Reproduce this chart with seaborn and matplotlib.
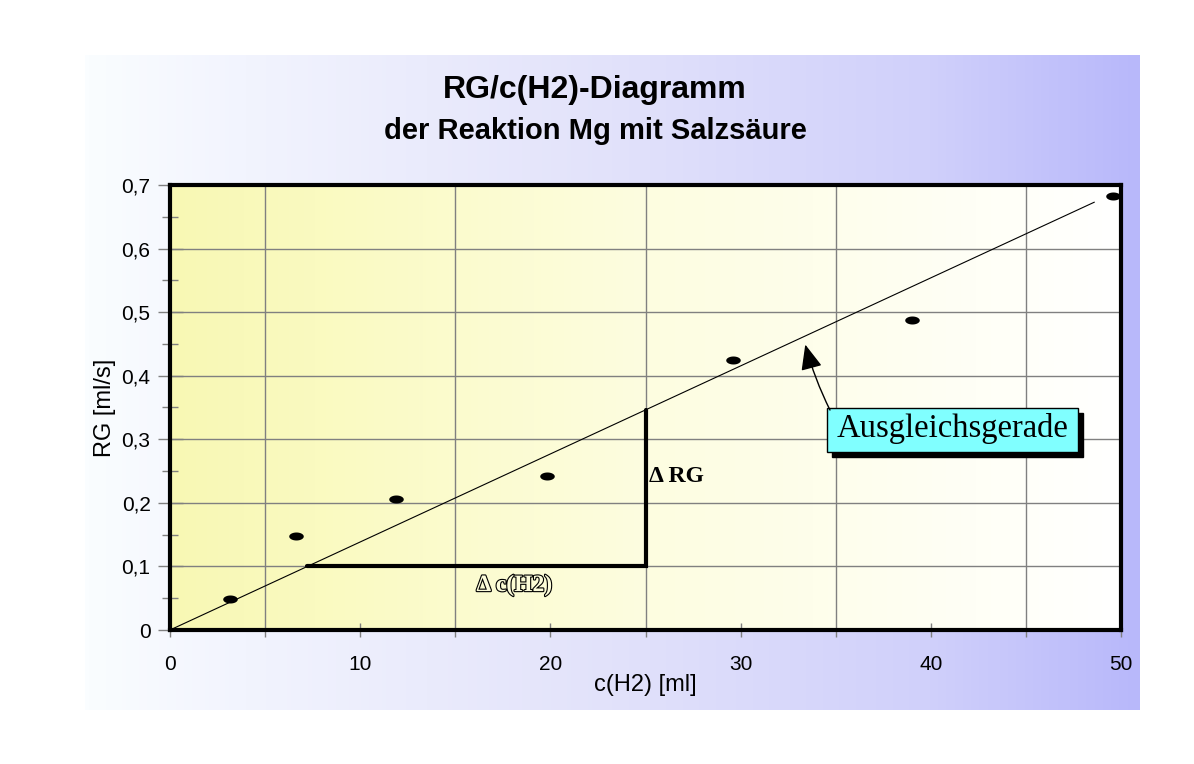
import numpy as np
import pandas as pd
import matplotlib
matplotlib.use("Agg")
import matplotlib.pyplot as plt
import matplotlib.patheffects as pe
from matplotlib.colors import LinearSegmentedColormap
from matplotlib.patches import Rectangle
from matplotlib.ticker import MultipleLocator, FuncFormatter
import seaborn as sns

# data
c_h2 = [3.15, 6.6, 11.9, 19.8, 29.6, 39.0, 49.6]
rg = [0.049, 0.148, 0.206, 0.242, 0.424, 0.487, 0.682]

# fit line (Ausgleichsgerade)
fit_x = [0.0, 48.6]
fit_y = [0.0, 0.673]

# slope triangle
tri_x = [7.2, 25.0, 25.0]
tri_y = [0.1, 0.1, 0.346]

title = "RG/c(H2)-Diagramm"
subtitle = "der Reaktion Mg mit Salzsäure"
xlabel = "c(H2) [ml]"
ylabel = "RG [ml/s]"

sns.set_theme(style="white")
plt.rcParams['font.family'] = ['Liberation Sans', 'DejaVu Sans']
plt.rcParams['text.color'] = 'black'
plt.rcParams['axes.labelcolor'] = 'black'
plt.rcParams['xtick.labelcolor'] = 'black'
plt.rcParams['ytick.labelcolor'] = 'black'

serif = ["Liberation Serif", "DejaVu Serif"]

fig = plt.figure(figsize=(11.94, 7.64), dpi=100)

# outer panel with blue gradient
bg = fig.add_axes([85/1194, 1-710/764, 1055/1194, 655/764], zorder=-5)
bg_cmap = LinearSegmentedColormap.from_list(
    "panel", [(0, "#fafdff"), (0.15, "#f2f4fe"), (0.5, "#e2e2fa"), (0.8, "#d0d0fa"), (1, "#b8b8fa")])
bg.imshow(np.linspace(0, 1, 256)[None, :], aspect="auto", cmap=bg_cmap, extent=[0, 1, 0, 1])
bg.axis("off")

ax = fig.add_axes([170/1194, 1-630/764, 951/1194, 445/764])

# plot area yellow -> white gradient
pa_cmap = LinearSegmentedColormap.from_list(
    "plot", [(0, "#f8f8b4"), (0.15, "#fafac0"), (0.5, "#fdfde0"), (0.85, "#fffff6"), (1, "#ffffff")])
ax.imshow(np.linspace(0, 1, 256)[None, :], aspect="auto", cmap=pa_cmap,
          extent=[0, 50, 0, 0.7], zorder=0)

# ellipse marker
t = np.linspace(0, 2*np.pi, 40)
ell = np.column_stack([np.cos(t), 0.55*np.sin(t)])

df = pd.DataFrame({"c": c_h2, "rg": rg})
sns.scatterplot(data=df, x="c", y="rg", ax=ax, marker=ell, s=110, color="black",
                edgecolor="black", linewidth=0, zorder=5, clip_on=False)
sns.lineplot(x=fit_x, y=fit_y, ax=ax, color="black", linewidth=0.8, zorder=4)
ax.plot(tri_x, tri_y, color="black", linewidth=3, zorder=4, solid_joinstyle="miter")

ax.set_xlim(0, 50)
ax.set_ylim(0, 0.7)

ax.xaxis.set_major_locator(MultipleLocator(10))
ax.xaxis.set_minor_locator(MultipleLocator(5))
ax.yaxis.set_major_locator(MultipleLocator(0.1))
ax.yaxis.set_minor_locator(MultipleLocator(0.05))
ax.yaxis.set_major_formatter(FuncFormatter(lambda v, p: "0" if abs(v) < 1e-9 else f"{v:.1f}".replace(".", ",")))

# gridlines: vertical at 5,15,25..., horizontal at every 0.1
for xv in [5, 15, 25, 35, 45]:
    ax.axvline(xv, color="#808080", linewidth=1, zorder=1)
for yv in np.arange(0.1, 0.65, 0.1):
    ax.axhline(yv, color="#808080", linewidth=1, zorder=1)

ax.tick_params(axis="x", which="major", direction="inout", length=10, width=1, color="#808080",
               labelsize=15, pad=13, bottom=True)
ax.tick_params(axis="x", which="minor", direction="out", length=5, width=1, color="#808080", bottom=True)
ax.tick_params(axis="y", which="major", direction="inout", length=18, width=1, color="#808080",
               labelsize=15, pad=5, left=True)
ax.tick_params(axis="y", which="minor", direction="inout", length=12, width=1, color="#808080", left=True)

for sp in ax.spines.values():
    sp.set_visible(True)
    sp.set_color("black")
    sp.set_linewidth(3)
    sp.set_zorder(6)

ax.set_xlabel(xlabel, fontsize=17, labelpad=0)
ax.set_ylabel(ylabel, fontsize=17, labelpad=4)

# titles
fig.text(595/1194, 1-90/764, title, ha="center", va="center", fontsize=23, fontweight="bold")
fig.text(595/1194, 1-131/764, subtitle, ha="center", va="center", fontsize=21, fontweight="bold")

# triangle labels
ax.text(25.2, 0.241, "\u0394 RG", fontsize=17, fontweight="bold", family=serif,
        ha="left", va="center", zorder=7)
ax.text(18.1, 0.07, "\u0394 c(H2)", fontsize=17, fontweight="bold", family=serif,
        ha="center", va="center", color="#fcfcda", zorder=7,
        path_effects=[pe.Stroke(linewidth=1.6, foreground="black"), pe.Normal()])

# Ausgleichsgerade callout with drop shadow
bx0, bx1, by0, by1 = 34.54, 47.74, 0.280, 0.349
ax.add_patch(Rectangle((bx0 + 0.27, by0 - 0.008), bx1 - bx0, by1 - by0,
                       facecolor="black", edgecolor="black", zorder=7))
ax.add_patch(Rectangle((bx0, by0), bx1 - bx0, by1 - by0,
                       facecolor="#80ffff", edgecolor="black", linewidth=1, zorder=8))
ax.text((bx0 + bx1) / 2, (by0 + by1) / 2 + 0.002, "Ausgleichsgerade", fontsize=23.5, family=serif,
        ha="center", va="center", color="black", zorder=9)
ax.annotate("", xy=(33.4, 0.449), xytext=(34.7, 0.346), zorder=9,
            arrowprops=dict(arrowstyle="-|>,head_length=1.3,head_width=0.55", color="black", lw=1,
                            connectionstyle="arc3,rad=-0.05", shrinkA=0, shrinkB=0))

fig.savefig("out.png", dpi=100, facecolor="white")
